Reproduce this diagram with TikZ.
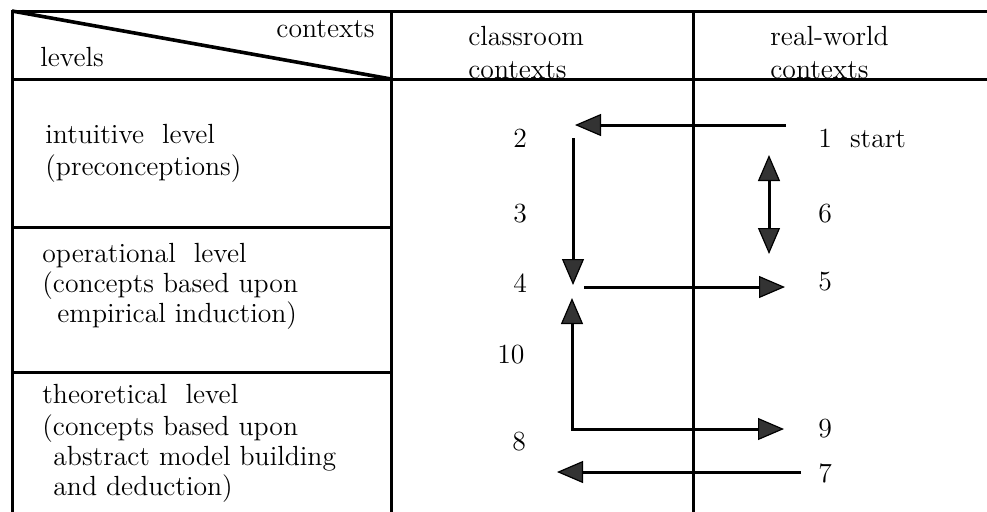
\documentclass[tikz,border=0pt]{standalone}
\usetikzlibrary{arrows.meta}
\begin{document}
\begin{tikzpicture}[x=0.5pt,y=-0.5pt,
  rule/.style={line width=1.5pt, line cap=rect},
  lbl/.style={inner sep=0pt, anchor=base west, font=\fontsize{13.85}{16}\selectfont},
  flow/.style={line width=1.5pt,
    -{Triangle[length=13pt,width=11pt,line width=0.6pt,fill=black!80]}},
  twoway/.style={line width=1.5pt,
    {Triangle[length=13pt,width=11pt,line width=0.6pt,fill=black!80]}-{Triangle[length=13pt,width=11pt,line width=0.6pt,fill=black!80]}},
]
\useasboundingbox (0,0) rectangle (987,511);

% table rules
\draw[rule] (12,11) -- (987,11);
\draw[rule] (12,79) -- (987,79);
\draw[rule] (12,11) -- (12,511);
\draw[rule] (391,11) -- (391,511);
\draw[rule] (693,11) -- (693,511);
\draw[rule] (12,227) -- (391,227);
\draw[rule] (12,372) -- (391,372);
\draw[line width=1.8pt] (12,11) -- (391,79);

% header
\node[lbl, anchor=base east] (hctx) at (375,37) {contexts};
\node[lbl] (hlev) at (40,66) {levels};
\node[lbl] (hcl1) at (468,45) {classroom};
\node[lbl] (hcl2) at (468,78) {contexts};
\node[lbl] (hrw1) at (770,45) {real-world};
\node[lbl] (hrw2) at (770,78) {contexts};

% levels
\node[lbl] (l1a) at (45,143) {intuitive\ \ level};
\node[lbl] (l1b) at (45,175) {(preconceptions)};
\node[lbl] (l2a) at (42,262) {operational\ \ level};
\node[lbl] (l2b) at (42,292) {(concepts based upon};
\node[lbl] (l2c) at (57,322) {empirical induction)};
\node[lbl] (l3a) at (42,403) {theoretical\ \ level};
\node[lbl] (l3b) at (42,435) {(concepts based upon};
\node[lbl] (l3c) at (53,465) {abstract model building};
\node[lbl] (l3d) at (53,495) {and deduction)};

% step numbers
\node[lbl] (n2) at (513,147) {2};
\node[lbl] (n3) at (513,222) {3};
\node[lbl] (n4) at (513,292) {4};
\node[lbl] (n10) at (497,363) {10};
\node[lbl] (n8) at (512,450) {8};
\node[lbl] (n1) at (818,147) {1\ \ start};
\node[lbl] (n6) at (818,222) {6};
\node[lbl] (n5) at (818,290) {5};
\node[lbl] (n9) at (818,437) {9};
\node[lbl] (n7) at (818,482) {7};

% arrow end points
\coordinate (a1) at (786,125);
\coordinate (a2) at (575,125);
\coordinate (b2) at (573,138);
\coordinate (b4) at (573,285);
\coordinate (c4) at (584,287);
\coordinate (c5) at (785,287);
\coordinate (d6t) at (769,155);
\coordinate (d6b) at (769,254);
\coordinate (e4) at (572,298);
\coordinate (e8) at (572,429);
\coordinate (e9) at (784,429);
\coordinate (f7) at (801,472);
\coordinate (f8) at (557,472);

% arrows
\draw[flow] (a1) -- (a2);
\draw[flow] (b2) -- (b4);
\draw[flow] (c4) -- (c5);
\draw[twoway] (d6t) -- (d6b);
\draw[twoway] (e4) -- (e8) -- (e9);
\draw[flow] (f7) -- (f8);
\end{tikzpicture}
\end{document}
